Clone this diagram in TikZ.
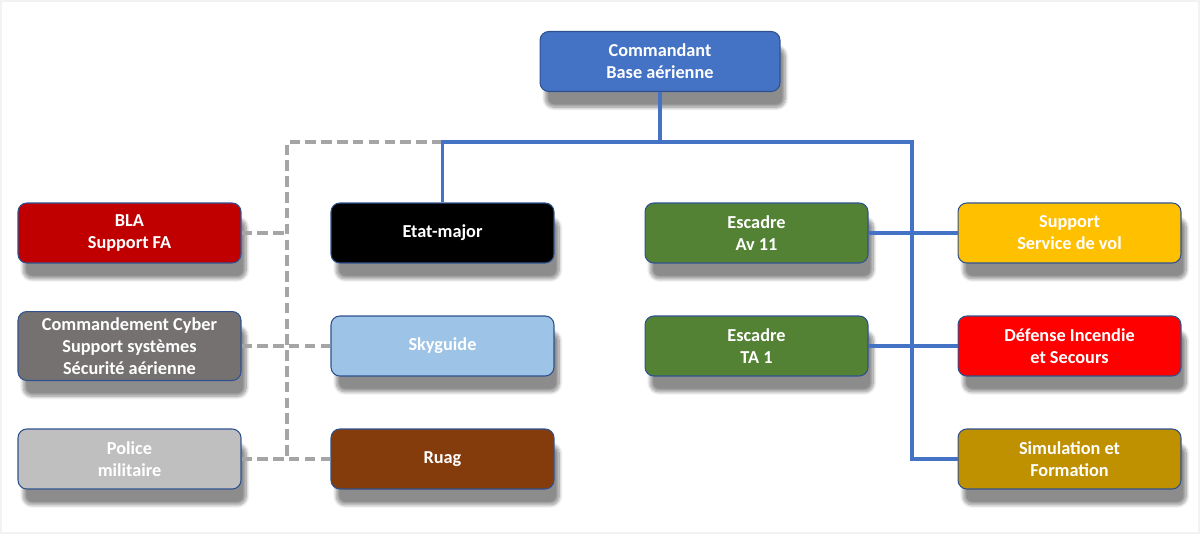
\documentclass[tikz,border=0pt]{standalone}
\usepackage{fontspec}
\setmainfont{Carlito}
\usetikzlibrary{shadows.blur}

\definecolor{cmdblue}{HTML}{4472C4}
\definecolor{edgeblue}{HTML}{2F528F}
\definecolor{blared}{HTML}{C00000}
\definecolor{cybergray}{HTML}{767171}
\definecolor{skyblue}{HTML}{9DC3E6}
\definecolor{policegray}{HTML}{BFBFBF}
\definecolor{ruagbrown}{HTML}{843C0C}
\definecolor{escgreen}{HTML}{548235}
\definecolor{supyellow}{HTML}{FFC000}
\definecolor{firered}{HTML}{FF0000}
\definecolor{simgold}{HTML}{BF9000}
\definecolor{dashgray}{HTML}{A5A5A5}

\tikzset{
  unit/.style={draw=edgeblue, line width=0.6pt, rounded corners=5pt,
    minimum width=4.46cm, minimum height=1.2cm, align=center,
    text=white, font=\bfseries\fontsize{10.4}{12.6}\selectfont,
    blur shadow={shadow xshift=3pt, shadow yshift=-9pt, shadow opacity=45,
      shadow blur steps=10, shadow blur extra rounding=2pt}},
  hier/.style={draw=cmdblue, line width=2.1pt},
  partner/.style={draw=dashgray, line width=2.1pt, dash pattern=on 6pt off 3pt}
}

\begin{document}
\begin{tikzpicture}[x=0.02cm, y=-0.02cm]
  \useasboundingbox (0,0) rectangle (1200,534);
  \draw[black!5, line width=0.8pt] (1,1) rectangle (1199,533);

  % commandement
  \node[unit, fill=cmdblue, minimum width=4.8cm] (cdt) at (660,61.5) {Commandant\\Base aérienne};

  % gauche
  \node[unit, fill=blared] (bla) at (129.5,233) {BLA\\Support FA};
  \node[unit, fill=cybergray] (cyber) at (129.5,346) {Commandement Cyber\\Support systèmes\\Sécurité aérienne};
  \node[unit, fill=policegray] (police) at (129.5,459) {Police\\militaire};

  \node[unit, fill=black] (em) at (442.5,233) {Etat-major};
  \node[unit, fill=skyblue] (sky) at (442.5,346) {Skyguide};
  \node[unit, fill=ruagbrown] (ruag) at (442.5,459) {Ruag};

  % droite
  \node[unit, fill=escgreen] (av) at (756.5,233) {Escadre\\Av 11};
  \node[unit, fill=escgreen] (ta) at (756.5,346) {Escadre\\TA 1};

  \node[unit, fill=supyellow] (sup) at (1069.5,233) {Support\\Service de vol};
  \node[unit, fill=firered] (fire) at (1069.5,346) {Défense Incendie\\et Secours};
  \node[unit, fill=simgold] (sim) at (1069.5,459) {Simulation et\\Formation};

  \coordinate (bus) at (660,142);
  \coordinate (spine) at (912,142);
  \coordinate (dtop) at (287,142);
  \coordinate (dbot) at (287,459);

  % partenaires
  \draw[partner] (em.north |- dtop) -- (dtop) -- (dbot);
  \draw[partner] (bla.east) -- (dtop |- bla.east);
  \draw[partner] (cyber.east) -- (sky.west);
  \draw[partner] (police.east) -- (ruag.west);

  % lignes hierarchiques
  \draw[hier] (cdt.south) -- (bus);
  \draw[hier] (em.north) |- (spine) -- (spine |- sim.west) -- (sim.west);
  \draw[hier] (av.east) -- (sup.west);
  \draw[hier] (ta.east) -- (fire.west);
\end{tikzpicture}
\end{document}
